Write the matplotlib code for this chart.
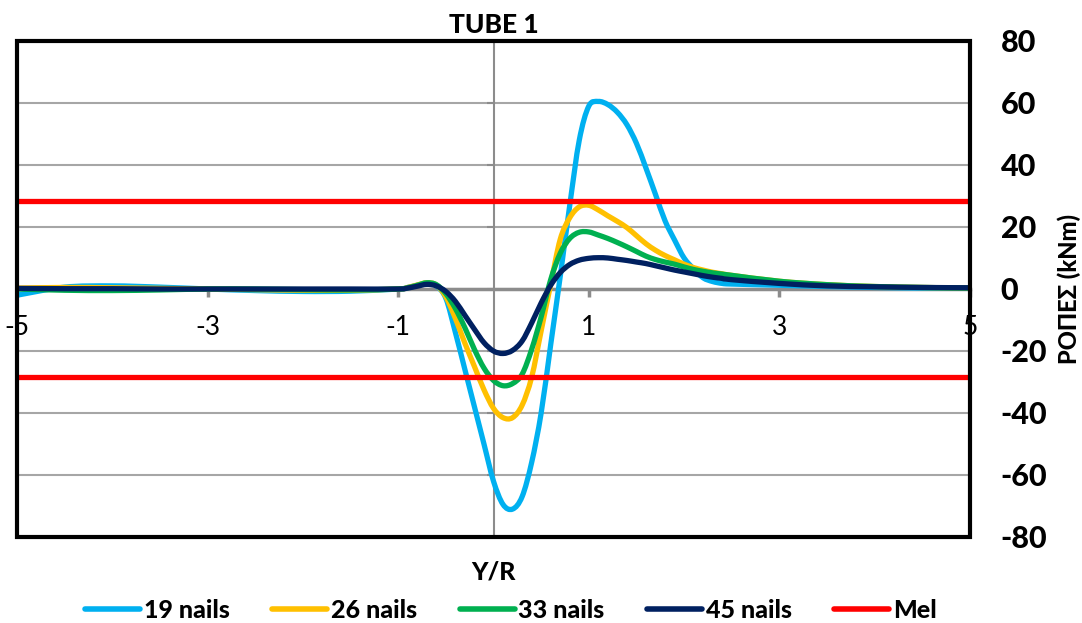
import numpy as np
import matplotlib
matplotlib.use("Agg")
import matplotlib.pyplot as plt
from matplotlib.path import Path
from matplotlib.patches import PathPatch, Rectangle
from matplotlib.lines import Line2D

plt.rcParams["font.family"] = ["Lato", "DejaVu Sans"]
plt.rcParams["axes.unicode_minus"] = False
HEAVY = 900

# Y/R positions along the tube
y_r = [-5.0, -4.5, -4.0, -3.5, -3.0, -2.5, -2.0, -1.5,
       -1.0, -0.9, -0.8, -0.7, -0.6, -0.5, -0.4, -0.3, -0.2, -0.1,
       0.0, 0.1, 0.2, 0.3, 0.4, 0.5, 0.6, 0.7, 0.8, 0.9,
       1.0, 1.1, 1.2, 1.3, 1.4, 1.5, 1.6, 1.7, 1.8, 1.9,
       2.0, 2.1, 2.2, 2.3, 2.4, 2.5,
       3.0, 3.5, 4.0, 4.5, 5.0]

# bending moments (kNm) for each nail count
nails_19 = [-2.0, 0.6, 1.0, 0.6, 0.0, -0.5, -0.8, -0.7,
            0.0, 0.5, 1.2, 1.8, 1.0, -3.0, -14.0, -26.0, -38.0, -50.0,
            -62.0, -69.5, -71.0, -67.0, -56.0, -40.0, -18.0, 4.0, 27.0, 48.0,
            59.0, 60.5, 59.5, 57.0, 53.0, 47.0, 39.0, 30.5, 22.0, 15.8,
            10.0, 6.5, 3.6, 2.4, 1.8, 1.6,
            1.2, 0.8, 0.5, 0.3, 0.2]
nails_26 = [0.3, 0.5, 0.4, 0.2, 0.0, -0.2, -0.4, -0.4,
            0.0, 0.5, 1.3, 2.0, 1.3, -2.5, -9.5, -17.5, -25.0, -32.5,
            -38.5, -41.5, -41.5, -37.5, -28.5, -13.5, 1.5, 16.0, 23.0, 26.5,
            27.0, 25.5, 23.6, 21.8, 19.8, 17.2, 14.6, 12.5, 10.8, 9.4,
            8.0, 6.9, 6.1, 5.4, 4.9, 4.4,
            2.5, 1.4, 0.8, 0.5, 0.3]
nails_33 = [0.0, -0.4, -0.5, -0.3, 0.0, 0.0, -0.2, -0.3,
            0.0, 0.4, 1.2, 2.0, 1.4, -1.5, -6.3, -12.5, -19.5, -25.5,
            -29.5, -31.2, -30.5, -27.5, -19.5, -9.0, 3.0, 11.5, 16.3, 18.3,
            18.4, 17.4, 16.3, 15.0, 13.6, 12.1, 10.6, 9.5, 8.7, 8.0,
            7.1, 6.3, 5.7, 5.2, 4.8, 4.4,
            2.5, 1.4, 0.8, 0.5, 0.3]
nails_45 = [0.2, 0.1, 0.1, 0.0, 0.0, 0.0, 0.0, 0.0,
            0.0, 0.3, 0.9, 1.5, 1.0, -0.8, -4.0, -8.5, -13.0, -17.3,
            -20.0, -20.8, -19.8, -16.8, -11.0, -4.5, 1.2, 5.3, 7.9, 9.3,
            9.9, 10.1, 10.0, 9.6, 9.2, 8.7, 8.2, 7.5, 6.8, 6.1,
            5.5, 4.9, 4.3, 3.8, 3.4, 3.0,
            1.8, 1.0, 0.7, 0.5, 0.4]

# elastic moment limit Mel (kNm), drawn at +/- over the full span
mel_x = [-5.0, 5.0]
mel_level = 28.5

series_labels = ["19 nails", "26 nails", "33 nails", "45 nails"]
series_colors = ["#00B0F0", "#FFC000", "#00B050", "#002060"]
mel_color = "#FF0000"

x_ticks = [-5, -3, -1, 1, 3, 5]
y_ticks = [-80, -60, -40, -20, 0, 20, 40, 60, 80]


def smooth_path(xs, ys):
    """Cubic Bezier path through the points (Catmull-Rom style tangents)."""
    pts = np.column_stack([xs, ys]).astype(float)
    n = len(pts)
    verts = [tuple(pts[0])]
    codes = [Path.MOVETO]
    for i in range(n - 1):
        p0 = pts[max(i - 1, 0)]
        p1 = pts[i]
        p2 = pts[i + 1]
        p3 = pts[min(i + 2, n - 1)]
        c1 = p1 + (p2 - p0) / 6.0
        c2 = p2 - (p3 - p1) / 6.0
        verts += [tuple(c1), tuple(c2), tuple(p2)]
        codes += [Path.CURVE4] * 3
    return Path(verts, codes)


W, H = 1082, 623
fig = plt.figure(figsize=(W / 100, H / 100), dpi=100)
ax = fig.add_axes([17 / W, 86 / H, 953 / W, 496 / H])
ax.set_xlim(-5, 5)
ax.set_ylim(-80, 80)
ax.set_xticks(x_ticks)
ax.set_yticks(y_ticks)

axis_grey = "#8C8C8C"
ax.grid(axis="y", color="#A6A6A6", lw=1.5)
ax.grid(axis="x", visible=False)

# axes cross at the origin
ax.spines["bottom"].set_position(("data", 0))
ax.spines["bottom"].set_color(axis_grey)
ax.spines["bottom"].set_linewidth(2.5)
ax.spines["left"].set_position(("data", 0))
ax.spines["left"].set_color(axis_grey)
ax.spines["left"].set_linewidth(1.5)
ax.spines["top"].set_visible(False)
ax.spines["right"].set_visible(False)
ax.tick_params(axis="x", direction="out", length=6, width=2.5, color=axis_grey,
               labelsize=19, pad=13)
ax.tick_params(axis="y", direction="out", length=5, width=1.5, color=axis_grey,
               labelleft=False)

all_series = [nails_19, nails_26, nails_33, nails_45]
for vals, col in zip(all_series, series_colors):
    patch = PathPatch(smooth_path(y_r, vals), facecolor="none", edgecolor=col,
                      lw=3.8, capstyle="round", joinstyle="round", zorder=3)
    ax.add_patch(patch)

for lvl in (mel_level, -mel_level):
    ax.plot(mel_x, [lvl, lvl], color=mel_color, lw=3.8, zorder=4,
            solid_capstyle="butt", clip_on=False)

frame = Rectangle((0, 0), 1, 1, transform=ax.transAxes, fill=False,
                  edgecolor="black", lw=3, zorder=10, clip_on=False)
ax.add_artist(frame)

ax.set_title("TUBE 1", fontsize=19, fontweight=HEAVY, pad=6)

# value axis labels on the right
ax2 = ax.twinx()
ax2.set_ylim(-80, 80)
ax2.set_yticks(y_ticks)
ax2.set_yticklabels([str(v) for v in y_ticks], fontweight=HEAVY)
ax2.tick_params(axis="y", length=0, pad=22, labelsize=22)
for s in ax2.spines.values():
    s.set_visible(False)
ax2.set_ylabel("ΡΟΠΕΣ (kNm)", fontsize=17, fontweight=HEAVY, labelpad=7)

fig.text(493.5 / W, 1 - 572 / H, "Y/R", ha="center", va="center",
         fontsize=18, fontweight=HEAVY)

handles = [Line2D([], [], color=c, lw=4, solid_capstyle="round")
           for c in series_colors]
handles.append(Line2D([], [], color=mel_color, lw=4, solid_capstyle="round"))
labels = series_labels + ["Mel"]
fig.legend(handles, labels, loc="center", bbox_to_anchor=(511 / W, 1 - 610 / H),
           ncol=5, frameon=False, prop={"size": 18, "weight": HEAVY},
           handlelength=2.2, handletextpad=0.15, columnspacing=1.7)

fig.savefig("out.png", dpi=100)
